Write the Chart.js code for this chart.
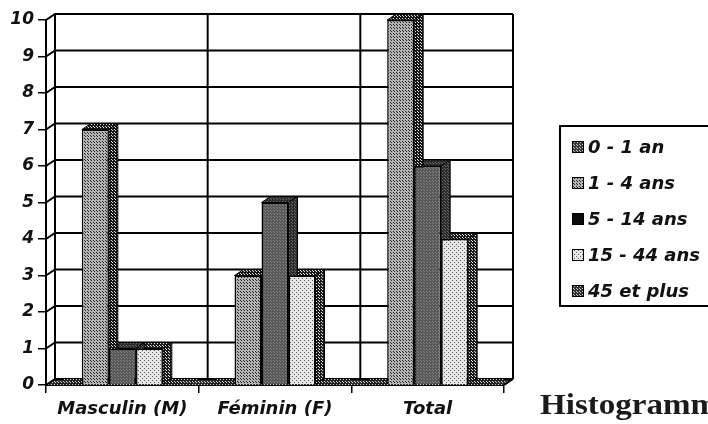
<!DOCTYPE html>
<html>
<head>
<meta charset="utf-8">
<script src="https://cdn.jsdelivr.net/npm/chart.js@4/dist/chart.umd.min.js"></script>
<style>
  html, body { margin: 0; padding: 0; background: #fff; overflow: hidden; }
  #wrap { position: relative; width: 708px; height: 424px; overflow: hidden; }
  #caption { position: absolute; left: 540px; top: 388px; font: bold 29px "Liberation Serif", serif; color: #1a1a1a; white-space: nowrap; transform: scaleX(1.14); transform-origin: left top; }
</style>
</head>
<body>
<div id="wrap">
  <canvas id="myChart" width="708" height="424"></canvas>
  <div id="caption">Histogramme</div>
</div>
<script>
/** chart data */
const categories = ['Masculin (M)', 'Féminin (F)', 'Total']
const seriesNames = ['0 - 1 an', '1 - 4 ans', '5 - 14 ans', '15 - 44 ans', '45 et plus']
const ans0to1 = [0, 0, 0]
const ans1to4 = [7, 3, 10]
const ans5to14 = [1, 5, 6]
const ans15to44 = [1, 3, 4]
const ans45plus = [0, 0, 0]
const yMin = 0, yMax = 10, yStep = 1

const seriesValues = [ans0to1, ans1to4, ans5to14, ans15to44, ans45plus]

// depth of the fake 3d projection
const depthX = 9, depthY = -6
const labelFont = { family: 'DejaVu Sans', size: 18, weight: 'bold', style: 'italic' }

function stipple(base, dot, step){
    // small repeating tile to mimic the dotted fills of the scan
    const c = document.createElement('canvas')
    c.width = step
    c.height = step
    const g = c.getContext('2d')
    g.fillStyle = base
    g.fillRect(0, 0, step, step)
    g.fillStyle = dot
    g.fillRect(0, 0, 1, 1)
    g.fillRect(Math.floor(step / 2), Math.floor(step / 2), 1, 1)
    return g.createPattern(c, 'repeat')
}

const frontFills = [
    stipple('#3a3a3a', '#bdbdbd', 3),
    stipple('#b4b4b4', '#262626', 3),
    stipple('#585858', '#828282', 3),
    stipple('#e6e6e6', '#606060', 4),
    stipple('#333333', '#c8c8c8', 3)
]
const sideFills = [
    stipple('#1e1e1e', '#d0d0d0', 3),
    stipple('#151515', '#e0e0e0', 3),
    stipple('#2c2c2c', '#6a6a6a', 3),
    stipple('#1a1a1a', '#e8e8e8', 3),
    stipple('#1e1e1e', '#d0d0d0', 3)
]
const floorFill = stipple('#2a2a2a', '#d8d8d8', 3)
const legendFills = [frontFills[0], frontFills[1], '#0a0a0a', frontFills[3], frontFills[4]]

/** back wall grid, floor and bar sides */
const cube3d = {
    id: 'cube3d',
    beforeDatasetsDraw(chart){
        const {ctx, chartArea, scales} = chart
        const x = scales.x, y = scales.y
        ctx.save()

        // floor strip between the front axis and the back wall
        const y0 = y.getPixelForValue(yMin)
        ctx.beginPath()
        ctx.moveTo(chartArea.left, y0)
        ctx.lineTo(chartArea.left + depthX, y0 + depthY)
        ctx.lineTo(chartArea.right + depthX, y0 + depthY)
        ctx.lineTo(chartArea.right, y0)
        ctx.closePath()
        ctx.fillStyle = floorFill
        ctx.fill()

        ctx.strokeStyle = '#000'
        ctx.lineWidth = 2
        for (let v = yMin; v <= yMax; v += yStep){
            const py = y.getPixelForValue(v)
            ctx.beginPath()
            ctx.moveTo(chartArea.left, py)
            ctx.lineTo(chartArea.left + depthX, py + depthY)
            ctx.lineTo(chartArea.right + depthX, py + depthY)
            ctx.stroke()
        }
        const n = categories.length
        for (let i = 0; i <= n; i++){
            let bx
            if (i === 0) bx = chartArea.left
            else if (i === n) bx = chartArea.right
            else bx = (x.getPixelForValue(i - 1) + x.getPixelForValue(i)) / 2
            ctx.beginPath()
            ctx.moveTo(bx + depthX, y.getPixelForValue(yMax) + depthY)
            ctx.lineTo(bx + depthX, y0 + depthY)
            ctx.stroke()
        }
        ctx.beginPath()
        ctx.moveTo(chartArea.right, y0)
        ctx.lineTo(chartArea.right + depthX, y0 + depthY)
        ctx.stroke()

        // top faces first, then the side faces
        ctx.lineWidth = 1
        const metas = chart.data.datasets.map((d, i) => chart.getDatasetMeta(i))
        metas.forEach((meta, di) => {
            meta.data.forEach(bar => {
                const l = bar.x - bar.width / 2, r = bar.x + bar.width / 2
                ctx.beginPath()
                ctx.moveTo(l, bar.y)
                ctx.lineTo(l + depthX, bar.y + depthY)
                ctx.lineTo(r + depthX, bar.y + depthY)
                ctx.lineTo(r, bar.y)
                ctx.closePath()
                ctx.fillStyle = sideFills[di]
                ctx.fill()
                if (bar.base - bar.y > 1) ctx.stroke()
            })
        })
        metas.forEach((meta, di) => {
            meta.data.forEach(bar => {
                if (bar.base - bar.y < 1) return
                const r = bar.x + bar.width / 2
                ctx.beginPath()
                ctx.moveTo(r, bar.y)
                ctx.lineTo(r + depthX, bar.y + depthY)
                ctx.lineTo(r + depthX, bar.base + depthY)
                ctx.lineTo(r, bar.base)
                ctx.closePath()
                ctx.fillStyle = sideFills[di]
                ctx.fill()
                ctx.stroke()
            })
        })
        ctx.restore()
    }
}

/** boxed legend on the right, cut by the page edge like the scan */
const boxLegend = {
    id: 'boxLegend',
    afterDraw(chart){
        const {ctx} = chart
        ctx.save()
        ctx.strokeStyle = '#000'
        ctx.lineWidth = 2
        ctx.strokeRect(560, 126, 170, 180)
        ctx.font = 'italic bold 18px "DejaVu Sans"'
        ctx.textBaseline = 'middle'
        chart.data.datasets.forEach((ds, i) => {
            const cy = 147 + i * 36
            ctx.fillStyle = legendFills[i]
            ctx.fillRect(572, cy - 6, 12, 12)
            ctx.lineWidth = 1
            ctx.strokeRect(572.5, cy - 5.5, 11, 11)
            ctx.fillStyle = '#111'
            ctx.fillText(ds.label, 588, cy + 1)
        })
        ctx.restore()
    }
}

const ctx = document.getElementById('myChart')
const myChart = new Chart(ctx, {
    type: 'bar',
    data: {
        labels: categories,
        datasets: seriesNames.map((name, i) => ({
            label: name,
            data: seriesValues[i],
            backgroundColor: frontFills[i],
            borderColor: '#000',
            borderWidth: 1.5,
            categoryPercentage: 0.884,
            barPercentage: 1
        }))
    },
    options: {
        responsive: false,
        animation: false,
        layout: { padding: { top: 20, right: 204, left: 0, bottom: 0 } },
        plugins: {
            legend: { display: false },
            tooltip: { enabled: false }
        },
        scales: {
            x: {
                grid: { drawOnChartArea: false, drawTicks: true, tickLength: 8, color: '#000', lineWidth: 1.5, offset: true },
                border: { color: '#000', width: 2 },
                ticks: { color: '#111', font: labelFont, padding: 6 },
                afterFit: s => { s.height = 39 }
            },
            y: {
                min: yMin,
                max: yMax,
                grid: { drawOnChartArea: false, drawTicks: true, tickLength: 8, color: '#000', lineWidth: 1.5 },
                border: { color: '#000', width: 2 },
                ticks: { stepSize: yStep, color: '#111', font: { family: 'DejaVu Sans', size: 17, weight: 'bold', style: 'italic' }, padding: 4 },
                afterFit: s => { s.width = 46 }
            }
        }
    },
    plugins: [cube3d, boxLegend]
});
</script>
</body>
</html>
